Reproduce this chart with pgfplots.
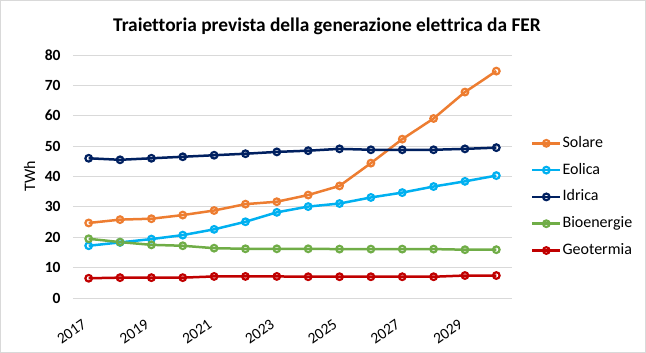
\documentclass[border=0pt]{standalone}
\usepackage{fontspec}
\setmainfont{Carlito}[Ligatures=NoCommon]
\usepackage{pgfplots}
\pgfplotsset{compat=1.18}
\definecolor{csol}{RGB}{237,125,49}
\definecolor{ceol}{RGB}{0,176,240}
\definecolor{cidr}{RGB}{0,32,96}
\definecolor{cbio}{RGB}{112,173,71}
\definecolor{cgeo}{RGB}{192,0,0}
\definecolor{cgrid}{RGB}{217,217,217}
\begin{document}
\begin{tikzpicture}
\draw[line width=1pt, color=cgrid] (-72.5pt,-54.5pt) rectangle (572.5pt,297.5pt);
\begin{axis}[
  scale only axis,
  width=439pt, height=243pt,
  xmin=2016.5, xmax=2030.5,
  ymin=0, ymax=80,
  ytick={0,10,...,80},
  xtick={2017,2019,...,2029},
  /pgf/number format/assume math mode=true,
  /pgf/number format/1000 sep={},
  axis line style={draw=none},
  major tick length=0pt,
  ymajorgrids,
  grid style={cgrid, line width=0.9pt},
  yticklabel style={font=\fontsize{15.5}{18}\selectfont\bfseries, xshift=-9pt},
  xticklabel style={font=\fontsize{15.5}{18}\selectfont, rotate=35, anchor=north east, xshift=-14pt, yshift=-9pt},
  ylabel={TWh},
  ylabel style={font=\fontsize{16}{19}\selectfont, at={(axis description cs:-0.099,0.5)}, anchor=center},
  legend style={draw=none, fill=none, at={(1.043,0.416)}, anchor=west, inner sep=0pt,
    font=\fontsize{16}{19}\selectfont, row sep=8.8pt, nodes={inner sep=1pt, text height=12pt, text depth=4pt}},
  legend cell align=left,
  legend image code/.code={\draw[mark repeat=2,mark phase=2] plot coordinates {(0pt,0pt) (14pt,0pt) (28pt,0pt)};},
  every axis plot/.append style={line width=2.5pt, mark=o, mark size=3.3pt, mark options={fill=white, line width=2.2pt}},
  clip=false,
]
\addplot[color=csol] coordinates {
(2017,24.7) (2018,25.8) (2019,26.1) (2020,27.3) (2021,28.8) (2022,30.9) (2023,31.7) (2024,33.9) (2025,36.9) (2026,44.4) (2027,52.3) (2028,59.1) (2029,67.8) (2030,74.7)};
\addlegendentry{Solare}
\addplot[color=ceol] coordinates {
(2017,17.2) (2018,18.3) (2019,19.4) (2020,20.7) (2021,22.6) (2022,25.1) (2023,28.2) (2024,30.1) (2025,31.1) (2026,33.1) (2027,34.7) (2028,36.7) (2029,38.4) (2030,40.3)};
\addlegendentry{Eolica}
\addplot[color=cidr] coordinates {
(2017,46.0) (2018,45.5) (2019,46.0) (2020,46.5) (2021,47.0) (2022,47.5) (2023,48.1) (2024,48.5) (2025,49.1) (2026,48.8) (2027,48.8) (2028,48.8) (2029,49.1) (2030,49.5)};
\addlegendentry{Idrica}
\addplot[color=cbio] coordinates {
(2017,19.5) (2018,18.4) (2019,17.5) (2020,17.2) (2021,16.4) (2022,16.2) (2023,16.2) (2024,16.2) (2025,16.1) (2026,16.1) (2027,16.1) (2028,16.1) (2029,15.9) (2030,15.9)};
\addlegendentry{Bioenergie}
\addplot[color=cgeo] coordinates {
(2017,6.5) (2018,6.7) (2019,6.7) (2020,6.7) (2021,7.1) (2022,7.1) (2023,7.1) (2024,7.0) (2025,7.0) (2026,7.0) (2027,7.0) (2028,7.0) (2029,7.4) (2030,7.4)};
\addlegendentry{Geotermia}
\end{axis}
\node[font=\fontsize{19.4}{23}\selectfont\bfseries, anchor=base] at (254pt,266.3pt) {Traiettoria prevista della generazione elettrica da FER};
\end{tikzpicture}
\end{document}
